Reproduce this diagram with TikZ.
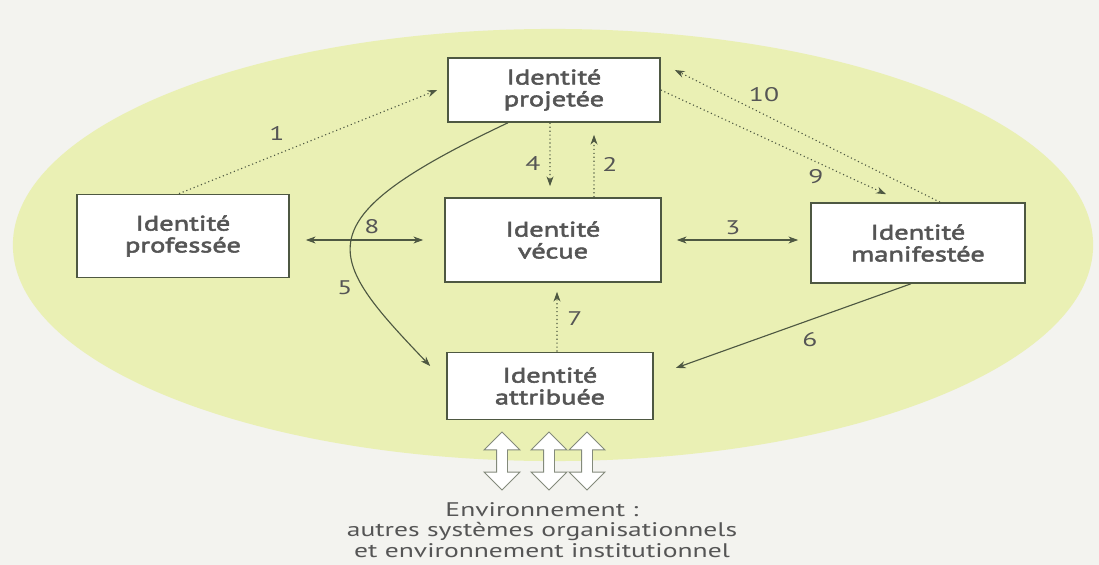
\documentclass[tikz,border=0pt]{standalone}
\usepackage{fontspec}
\setmainfont[FakeStretch=1.4]{PT Sans}
\newfontfamily\boxfont[FakeStretch=1.35, FakeBold=2.5]{PT Sans}
\usetikzlibrary{arrows.meta, shapes.arrows}
\definecolor{paleolive}{HTML}{EAF0B4}
\definecolor{pagegrey}{HTML}{F3F3EF}
\definecolor{inkgreen}{HTML}{4E5842}
\definecolor{inkgrey}{HTML}{555555}
\tikzset{
  idbox/.style={draw=inkgreen, line width=1.1pt, fill=white, align=center,
    font=\fontsize{15}{15.5}\boxfont, text=inkgrey, inner sep=0pt},
  link/.style={draw=inkgreen, line width=0.8pt, -{Stealth[length=7pt,width=5pt]}},
  duo/.style={link, {Stealth[length=7pt,width=5pt]}-{Stealth[length=7pt,width=5pt]}},
  faint/.style={link, dotted},
  num/.style={font=\fontsize{14}{15}\selectfont, text=inkgrey, inner sep=1pt},
  envarrow/.style={double arrow, draw=inkgreen!70, fill=white, line width=0.7pt,
    rotate=90, minimum height=1.45cm, inner sep=0.125cm,
    double arrow head extend=0.31cm}
}

\begin{document}
\begin{tikzpicture}[x=0.025cm, y=-0.025cm]
  \useasboundingbox (0,0) rectangle (1099,565);
  \fill[pagegrey] (0,0) rectangle (1099,565);
  \fill[paleolive] (553,245) ellipse [x radius=13.5cm, y radius=5.4cm];

  % the five identities
  \node[idbox, minimum width=5.3cm, minimum height=1.6cm] (proj) at (554,90) {Identité\\projetée};
  \node[idbox, minimum width=5.3cm, minimum height=2.08cm] (prof) at (183,236) {Identité\\professée};
  \node[idbox, minimum width=5.4cm, minimum height=2.1cm] (vecue) at (553,240) {Identité\\vécue};
  \node[idbox, minimum width=5.35cm, minimum height=2.0cm] (manif) at (918,243) {Identité\\manifestée};
  \node[idbox, minimum width=5.15cm, minimum height=1.68cm] (attrib) at (550,386) {Identité\\attribuée};

  % links
  \draw[faint] ([xshift=-0.1cm]prof.north) -- ([xshift=-0.25cm]proj.west);
  \draw[faint] ([xshift=1.025cm]vecue.north) -- ([shift={(1cm,-0.3cm)}]proj.south);
  \draw[faint] ([xshift=-0.1cm]proj.south) -- ([shift={(-0.075cm,0.275cm)}]vecue.north);
  \draw[faint] (proj.east) -- ([shift={(-0.8cm,0.2cm)}]manif.north);
  \draw[faint] ([xshift=0.55cm]manif.north) -- ([shift={(0.35cm,0.5cm)}]proj.east);
  \draw[duo] ([xshift=0.4cm]prof.east |- vecue.west) -- ([xshift=-0.525cm]vecue.west);
  \draw[duo] ([xshift=0.375cm]vecue.east) -- ([xshift=-0.3cm]manif.west |- vecue.east);
  \draw[link] ([xshift=-1.15cm]proj.south) .. controls (300,221) and (325,256) .. ([shift={(-0.4cm,0.5cm)}]attrib.west);
  \draw[faint] ([xshift=0.175cm]attrib.north) -- ([shift={(0.1cm,-0.225cm)}]vecue.south);
  \draw[link] ([xshift=-0.175cm]manif.south) -- ([shift={(0.55cm,0.45cm)}]attrib.east);

  % numbers
  \node[num] (n1) at (277,133) {1};
  \node[num] (n2) at (610,164) {2};
  \node[num] (n3) at (733,228) {3};
  \node[num] (n4) at (533,164) {4};
  \node[num] (n5) at (345,288) {5};
  \node[num] (n6) at (810,340) {6};
  \node[num] (n7) at (575,319) {7};
  \node[num] (n8) at (372,227) {8};
  \node[num] (n9) at (816,177) {9};
  \node[num] (n10) at (764,95) {10};

  % environment
  \node[envarrow] (env1) at (502,461) {};
  \node[envarrow] (env2) at (549,461) {};
  \node[envarrow] (env3) at (587,461) {};
  \node[num, align=center, font=\fontsize{14}{14.8}\selectfont] (envtext) at (542,530)
    {Environnement :\\autres systèmes organisationnels\\et environnement institutionnel};
\end{tikzpicture}
\end{document}
